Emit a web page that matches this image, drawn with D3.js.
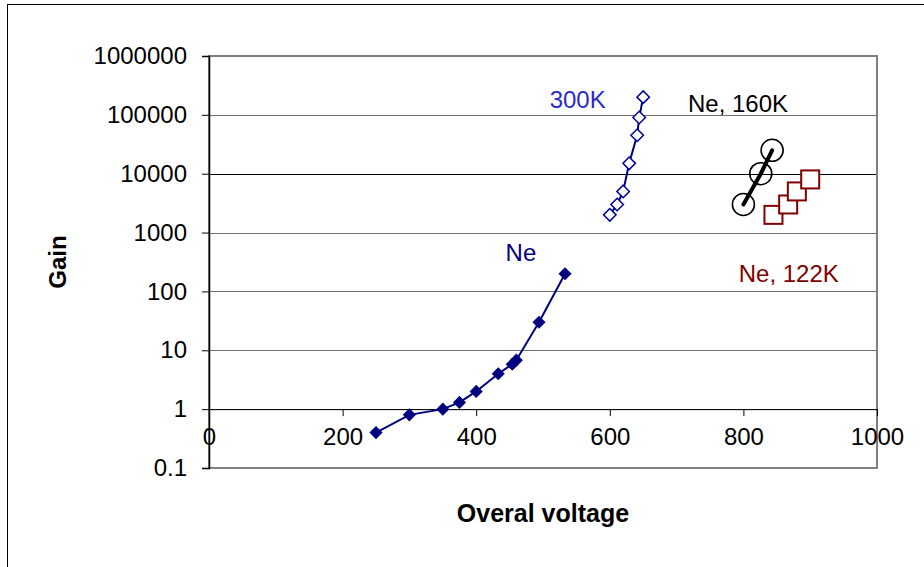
<!DOCTYPE html>
<html>
<head>
<meta charset="utf-8">
<script src="https://cdn.jsdelivr.net/npm/d3@7"></script>
<style>
  body { margin: 0; background: #fff; }
  svg { font-family: Arial, "Liberation Sans", sans-serif; }
</style>
</head>
<body>
<div id="chart"></div>
<script>
// data
let neVoltage = [250, 300, 350, 375, 400, 433, 454, 460, 494, 533];
let neGain = [0.4, 0.8, 1.0, 1.3, 2, 4, 5.8, 6.8, 30, 200];

let k300Voltage = [600, 611, 620, 629, 641, 644, 650];
let k300Gain = [2000, 3000, 5000, 15000, 45000, 90000, 200000];

let k160Voltage = [800, 826, 843];
let k160Gain = [3000, 10000, 25000];

let k122Voltage = [845, 867, 880, 900];
let k122Gain = [2000, 3000, 5000, 8000];

let xTicks = [0, 200, 400, 600, 800, 1000];
let yTicks = [0.1, 1, 10, 100, 1000, 10000, 100000, 1000000];

// text labels placed in data units
let labels = [
    { text: "Ne", x: 467, y: 330, color: "#000080", anchor: "middle" },
    { text: "300K", x: 510, y: 130000, color: "#2a2acc", anchor: "start" },
    { text: "Ne, 160K", x: 717, y: 111000, color: "#000", anchor: "start" },
    { text: "Ne, 122K", x: 793, y: 144, color: "#800000", anchor: "start" }
];

let W = 924, H = 567;
let margin = { top: 56, right: 47, bottom: 99, left: 209 };

let svg = d3.select("#chart").append("svg")
    .attr("width", W)
    .attr("height", H);

// outer chart frame (runs off the right and bottom)
svg.append("rect")
    .attr("x", 7.5).attr("y", 4.5)
    .attr("width", 1000).attr("height", 1000)
    .attr("fill", "none").attr("stroke", "#000").attr("stroke-width", 1);

let x = d3.scaleLinear().domain([0, 1000]).range([margin.left, W - margin.right]);
let y = d3.scaleLog().domain([0.1, 1000000]).range([H - margin.bottom, margin.top]);

// gridlines
svg.append("g")
    .selectAll("line")
    .data(yTicks.slice(1))
    .join("line")
    .attr("x1", x(0)).attr("x2", x(1000))
    .attr("y1", d => Math.round(y(d)) + 0.5)
    .attr("y2", d => Math.round(y(d)) + 0.5)
    .attr("stroke", d => d === 10000 ? "#000" : "#707070")
    .attr("stroke-width", 1.2);

// plot area border
svg.append("rect")
    .attr("x", x(0)).attr("y", y(1000000))
    .attr("width", x(1000) - x(0))
    .attr("height", y(0.1) - y(1000000))
    .attr("fill", "none").attr("stroke", "#808080").attr("stroke-width", 2);

// y axis
let yAxis = d3.axisLeft(y)
    .tickValues(yTicks)
    .tickFormat(d => d >= 1 ? d3.format("d")(d) : String(d))
    .tickSize(7)
    .tickPadding(15);

let gy = svg.append("g")
    .attr("transform", "translate(" + x(0) + ",0)")
    .call(yAxis);
gy.select(".domain").attr("stroke", "#000").attr("stroke-width", 1.5);
gy.selectAll(".tick line").attr("stroke", "#000");
gy.selectAll(".tick text").attr("font-size", 24).attr("fill", "#000");

// x axis crossing at gain = 1
let xAxis = d3.axisBottom(x)
    .tickValues(xTicks)
    .tickFormat(d3.format("d"))
    .tickSize(7)
    .tickPadding(12);

let gx = svg.append("g")
    .attr("transform", "translate(0," + y(1) + ")")
    .call(xAxis);
gx.select(".domain").attr("stroke", "#000").attr("stroke-width", 1);
gx.selectAll(".tick line").attr("stroke", "#000");
gx.selectAll(".tick text").attr("font-size", 24).attr("fill", "#000");

// axis titles
svg.append("text")
    .attr("transform", "translate(66," + ((y(1000000) + y(0.1)) / 2) + ") rotate(-90)")
    .attr("text-anchor", "middle")
    .attr("font-size", 24).attr("font-weight", "bold")
    .text("Gain");

svg.append("text")
    .attr("x", (x(0) + x(1000)) / 2)
    .attr("y", 522)
    .attr("text-anchor", "middle")
    .attr("font-size", 25).attr("font-weight", "bold")
    .text("Overal voltage");

let line = d3.line().x(d => x(d[0])).y(d => y(d[1]));
let diamond = d3.symbol().type(d3.symbolDiamond2);

// Ne (filled diamonds)
let neData = d3.zip(neVoltage, neGain);
svg.append("path")
    .datum(neData)
    .attr("d", line)
    .attr("fill", "none").attr("stroke", "#000080").attr("stroke-width", 2);
svg.append("g")
    .selectAll("path")
    .data(neData)
    .join("path")
    .attr("d", diamond.size(110))
    .attr("transform", d => "translate(" + x(d[0]) + "," + y(d[1]) + ")")
    .attr("fill", "#000080");

// 300K (open diamonds)
let k300Data = d3.zip(k300Voltage, k300Gain);
svg.append("path")
    .datum(k300Data)
    .attr("d", line)
    .attr("fill", "none").attr("stroke", "#000080").attr("stroke-width", 2);
svg.append("g")
    .selectAll("path")
    .data(k300Data)
    .join("path")
    .attr("d", diamond.size(100))
    .attr("transform", d => "translate(" + x(d[0]) + "," + y(d[1]) + ")")
    .attr("fill", "#fff").attr("stroke", "#0000a0").attr("stroke-width", 1.5);

// Ne 160K (open circles, thick line)
let k160Data = d3.zip(k160Voltage, k160Gain);
svg.append("g")
    .selectAll("circle")
    .data(k160Data)
    .join("circle")
    .attr("cx", d => x(d[0])).attr("cy", d => y(d[1]))
    .attr("r", 11)
    .attr("fill", "none").attr("stroke", "#000").attr("stroke-width", 1.6);
svg.append("path")
    .datum(k160Data)
    .attr("d", line)
    .attr("fill", "none").attr("stroke", "#000").attr("stroke-width", 4)
    .attr("stroke-linecap", "round");

// Ne 122K (open squares)
let k122Data = d3.zip(k122Voltage, k122Gain);
svg.append("g")
    .selectAll("rect")
    .data(k122Data)
    .join("rect")
    .attr("x", d => x(d[0]) - 9).attr("y", d => y(d[1]) - 9)
    .attr("width", 18).attr("height", 18)
    .attr("fill", "#fff").attr("stroke", "#800000").attr("stroke-width", 2);

// annotations
svg.append("g")
    .selectAll("text")
    .data(labels)
    .join("text")
    .attr("x", d => x(d.x)).attr("y", d => y(d.y))
    .attr("text-anchor", d => d.anchor)
    .attr("fill", d => d.color)
    .attr("font-size", 24)
    .text(d => d.text);
</script>
</body>
</html>
